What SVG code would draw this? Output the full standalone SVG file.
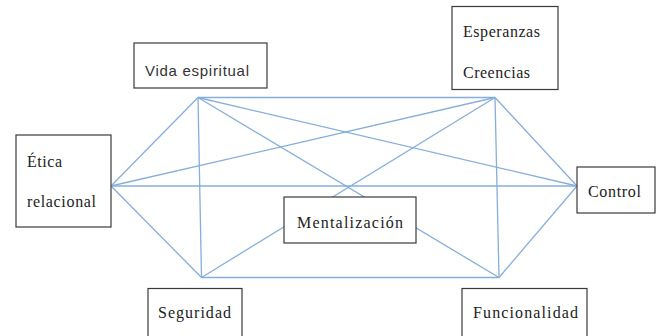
<svg xmlns="http://www.w3.org/2000/svg" width="660" height="336" viewBox="0 0 660 336">
<style>
.box{fill:#ffffff;stroke:#3a3a3a;stroke-width:1.2}
.c line{stroke:#86aedd;stroke-width:1.3}
</style>
<rect width="660" height="336" fill="#ffffff"/>
<g id="connectors" class="c">
<line x1="198" y1="97.5" x2="495" y2="97.5"/>
<line x1="198" y1="97.5" x2="111" y2="186"/>
<line x1="198" y1="97.5" x2="201.5" y2="277.5"/>
<line x1="198" y1="97.5" x2="577" y2="186"/>
<line x1="198" y1="97.5" x2="499" y2="277.5"/>
<line x1="495" y1="97.5" x2="111" y2="186"/>
<line x1="495" y1="97.5" x2="201.5" y2="277.5"/>
<line x1="495" y1="97.5" x2="499" y2="277.5"/>
<line x1="495" y1="97.5" x2="577" y2="186"/>
<line x1="111" y1="186" x2="577" y2="186"/>
<line x1="111" y1="186" x2="201.5" y2="277.5"/>
<line x1="201.5" y1="277.5" x2="499" y2="277.5"/>
<line x1="499" y1="277.5" x2="577" y2="186"/>
</g>
<g id="vida" font-family="Liberation Sans, Arial, sans-serif" font-size="15" fill="#333">
<rect class="box" x="134" y="43" width="133" height="45"/>
<text x="145" y="76" textLength="104" lengthAdjust="spacing">Vida espiritual</text>
</g>
<g font-family="Liberation Serif, DejaVu Serif, serif" font-size="16" fill="#222">
<g id="esperanzas">
<rect class="box" x="452" y="6.5" width="106" height="83"/>
<text x="463" y="37" textLength="77" lengthAdjust="spacing">Esperanzas</text>
<text x="463" y="78" textLength="67" lengthAdjust="spacing">Creencias</text>
</g>
<g id="etica">
<rect class="box" x="16" y="135" width="95" height="92"/>
<text x="27" y="167" textLength="35" lengthAdjust="spacing">Ética</text>
<text x="27" y="207" textLength="69" lengthAdjust="spacing">relacional</text>
</g>
<g id="control">
<rect class="box" x="577" y="167" width="78" height="46"/>
<text x="588" y="197" textLength="53" lengthAdjust="spacing">Control</text>
</g>
<g id="mentalizacion">
<rect class="box" x="284" y="197" width="132" height="46"/>
<text x="297" y="228" textLength="106" lengthAdjust="spacing">Mentalización</text>
</g>
<g id="seguridad">
<rect class="box" x="148" y="288.5" width="94" height="52"/>
<text x="158" y="318" textLength="73" lengthAdjust="spacing">Seguridad</text>
</g>
<g id="funcionalidad">
<rect class="box" x="462" y="288.5" width="125" height="52"/>
<text x="473" y="318" textLength="105" lengthAdjust="spacing">Funcionalidad</text>
</g>
</g>
</svg>
